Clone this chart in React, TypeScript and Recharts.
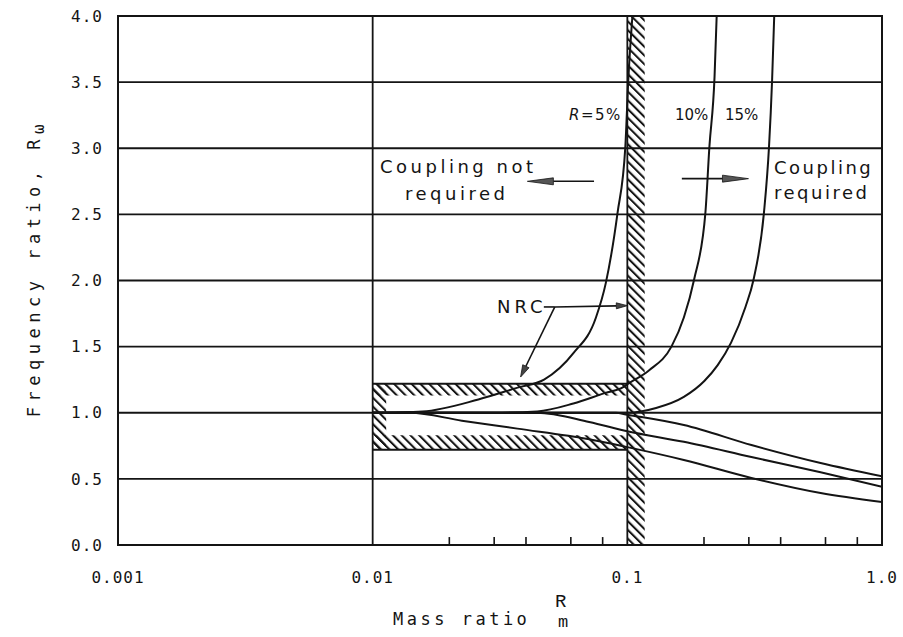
import React from "react"
import {
  LineChart,
  Line,
  XAxis,
  YAxis,
  CartesianGrid,
  ReferenceArea,
  ReferenceLine,
} from "recharts"

// axis ticks
const xTicks = [0.001, 0.01, 0.1, 1]
const yTicks = [0, 0.5, 1, 1.5, 2, 2.5, 3, 3.5, 4]
const minorTicks = [0.02, 0.03, 0.04, 0.06, 0.08, 0.2, 0.3, 0.4, 0.6, 0.8]

// upper branches (frequency ratio rises toward the asymptote)
const upper5 = [
  { m: 0.01, v: 1.0 }, { m: 0.0157, v: 1.01 }, { m: 0.026, v: 1.1 },
  { m: 0.0371, v: 1.19 }, { m: 0.0471, v: 1.25 }, { m: 0.0614, v: 1.45 },
  { m: 0.0753, v: 1.72 }, { m: 0.0823, v: 1.98 }, { m: 0.0915, v: 2.51 },
  { m: 0.0982, v: 3.01 }, { m: 0.1009, v: 3.52 }, { m: 0.1047, v: 4.0 },
]
const upper10 = [
  { m: 0.01, v: 1.0 }, { m: 0.03, v: 1.0 }, { m: 0.0443, v: 1.01 },
  { m: 0.0614, v: 1.07 }, { m: 0.082, v: 1.15 }, { m: 0.0956, v: 1.19 },
  { m: 0.1009, v: 1.22 }, { m: 0.1215, v: 1.32 }, { m: 0.149, v: 1.5 },
  { m: 0.1667, v: 1.72 }, { m: 0.183, v: 2.01 }, { m: 0.2025, v: 2.51 },
  { m: 0.21, v: 3.01 }, { m: 0.22, v: 3.54 }, { m: 0.2243, v: 4.0 },
]
const upper15 = [
  { m: 0.01, v: 1.0 }, { m: 0.1, v: 1.0 }, { m: 0.1297, v: 1.036 },
  { m: 0.1667, v: 1.12 }, { m: 0.2006, v: 1.24 }, { m: 0.2264, v: 1.36 },
  { m: 0.2555, v: 1.53 }, { m: 0.291, v: 1.8 }, { m: 0.3133, v: 2.01 },
  { m: 0.3438, v: 2.51 }, { m: 0.36, v: 3.01 }, { m: 0.3703, v: 3.52 },
  { m: 0.3774, v: 4.0 },
]

// lower branches
const lower5 = [
  { m: 0.01, v: 1.0 }, { m: 0.014, v: 1.0 }, { m: 0.0224, v: 0.94 },
  { m: 0.037, v: 0.88 }, { m: 0.0708, v: 0.8 }, { m: 0.1, v: 0.74 },
  { m: 0.1667, v: 0.643 }, { m: 0.307, v: 0.507 }, { m: 0.574, v: 0.393 },
  { m: 1.0, v: 0.325 },
]
const lower10 = [
  { m: 0.01, v: 1.0 }, { m: 0.0443, v: 1.0 }, { m: 0.0708, v: 0.93 },
  { m: 0.1, v: 0.86 }, { m: 0.1667, v: 0.78 }, { m: 0.307, v: 0.665 },
  { m: 0.574, v: 0.55 }, { m: 1.0, v: 0.44 },
]
const lower15 = [
  { m: 0.01, v: 1.0 }, { m: 0.09, v: 1.0 }, { m: 0.1, v: 0.985 },
  { m: 0.1667, v: 0.907 }, { m: 0.307, v: 0.756 }, { m: 0.574, v: 0.62 },
  { m: 1.0, v: 0.52 },
]

const curves = [upper5, upper10, upper15, lower5, lower10, lower15]

const INK = "#141414"
const MONO = "'DejaVu Sans Mono', monospace"
const SANS = "'DejaVu Sans', sans-serif"

// line with a filled arrowhead at its second point
const arrow = (head: number, width: number, fill: string) => (p: any) => {
  const { x1, y1, x2, y2 } = p
  const a = Math.atan2(y2 - y1, x2 - x1)
  const bx = x2 - head * Math.cos(a)
  const by = y2 - head * Math.sin(a)
  const nx = (-Math.sin(a) * width) / 2
  const ny = (Math.cos(a) * width) / 2
  return (
    <g>
      <line x1={x1} y1={y1} x2={bx} y2={by} stroke={INK} strokeWidth={1.6} />
      <polygon
        points={`${x2},${y2} ${bx + nx},${by + ny} ${bx - nx},${by - ny}`}
        fill={fill}
        stroke={INK}
        strokeWidth={0.8}
      />
    </g>
  )
}

const fmtX = (v: number) => (v === 1 ? "1.0" : String(v))

const hatchArea = { fill: "url(#hatch)", fillOpacity: 1, stroke: "none", strokeWidth: 0 }

export default function App() {
  return (
    <div style={{ position: "absolute", left: 0, top: 0, width: 903, height: 637, background: "#fff" }}>
      <LineChart
        width={903}
        height={637}
        margin={{ top: 16, right: 21, bottom: 52, left: 58 }}
      >
        <defs>
          <pattern id="hatch" patternUnits="userSpaceOnUse" width="6.2" height="6.2" patternTransform="rotate(-45)">
            <line x1="1" y1="0" x2="1" y2="6.2" stroke={INK} strokeWidth="2.1" />
          </pattern>
        </defs>
        <CartesianGrid stroke={INK} strokeWidth={1.8} />
        <XAxis
          dataKey="m"
          type="number"
          scale="log"
          domain={[0.001, 1]}
          ticks={xTicks}
          allowDataOverflow
          height={40}
          axisLine={{ stroke: INK, strokeWidth: 2 }}
          tickLine={false}
          tickSize={8}
          tickMargin={19}
          tickFormatter={fmtX}
          tick={{ fill: INK, fontFamily: MONO, fontSize: 16, letterSpacing: 1 }}
        />
        <YAxis
          dataKey="v"
          type="number"
          domain={[0, 4]}
          ticks={yTicks}
          width={60}
          axisLine={{ stroke: INK, strokeWidth: 2 }}
          tickLine={false}
          tickSize={8}
          tickMargin={7}
          tickFormatter={(v: number) => v.toFixed(1)}
          tick={{ fill: INK, fontFamily: MONO, fontSize: 16, letterSpacing: 1 }}
        />

        {/* NRC limits: hatched bands */}
        <ReferenceArea x1={0.1} x2={0.117} y1={0} y2={4} {...hatchArea} />
        <ReferenceArea x1={0.01} x2={0.1} y1={1.13} y2={1.22} {...hatchArea} />
        <ReferenceArea x1={0.01} x2={0.1} y1={0.72} y2={0.83} {...hatchArea} />
        <ReferenceArea x1={0.01} x2={0.0113} y1={0.72} y2={1.22} {...hatchArea} />
        <ReferenceLine segment={[{ x: 0.01, y: 1.22 }, { x: 0.1, y: 1.22 }]} stroke={INK} strokeWidth={2} />
        <ReferenceLine segment={[{ x: 0.01, y: 0.72 }, { x: 0.1, y: 0.72 }]} stroke={INK} strokeWidth={2} />

        {/* plot frame */}
        <ReferenceArea x1={0.001} x2={1} y1={0} y2={4} fill="none" stroke={INK} strokeWidth={2} />

        {/* minor ticks along the bottom */}
        {minorTicks.map((t) => (
          <ReferenceLine key={t} segment={[{ x: t, y: 0 }, { x: t, y: 0.06 }]} stroke={INK} strokeWidth={1.6} />
        ))}

        {/* annotation arrows */}
        <ReferenceLine segment={[{ x: 0.074, y: 2.75 }, { x: 0.0405, y: 2.75 }]} shape={arrow(26, 7, "#555")} />
        <ReferenceLine segment={[{ x: 0.1637, y: 2.77 }, { x: 0.299, y: 2.77 }]} shape={arrow(26, 7, "#555")} />
        <ReferenceLine segment={[{ x: 0.0519, y: 1.8 }, { x: 0.1, y: 1.81 }]} shape={arrow(11, 6, "#444")} />
        <ReferenceLine segment={[{ x: 0.0519, y: 1.8 }, { x: 0.0381, y: 1.27 }]} shape={arrow(12, 7, "#444")} />
        <ReferenceLine segment={[{ x: 0.047, y: 1.8 }, { x: 0.0519, y: 1.8 }]} stroke={INK} strokeWidth={1.6} />

        {curves.map((d, i) => (
          <Line
            key={i}
            data={d}
            dataKey="v"
            type="monotone"
            stroke={INK}
            strokeWidth={2}
            dot={false}
            activeDot={false}
            isAnimationActive={false}
          />
        ))}
      </LineChart>

      <svg
        width={903}
        height={637}
        style={{ position: "absolute", left: 0, top: 0, pointerEvents: "none" }}
      >
        <g fill={INK} fontFamily={SANS} fontSize={18} letterSpacing={3.5}>
          <text x={380} y={173}>Coupling not</text>
          <text x={405} y={200}>required</text>
          <text x={774} y={174} letterSpacing={2.5}>Coupling</text>
          <text x={774} y={199} letterSpacing={2.5}>required</text>
          <text x={497} y={313} letterSpacing={4}>NRC</text>
        </g>
        <g fill={INK} fontFamily={SANS} fontSize={15}>
          <text x={569} y={120} letterSpacing={1.5}>
            <tspan fontStyle="italic">R</tspan>=5%
          </text>
          <text x={675} y={120}>10%</text>
          <text x={725} y={120}>15%</text>
        </g>
        <g fill={INK} fontFamily={MONO} fontSize={17} letterSpacing={3.5}>
          <text x={393} y={625}>Mass ratio</text>
        </g>
        <text
          x={40}
          y={268}
          textAnchor="middle"
          transform="rotate(-90 40 268)"
          fill={INK}
          fontFamily={MONO}
          fontSize={17}
          letterSpacing={5.5}
        >
          Frequency ratio, R<tspan dy={4} fontSize={16}>ω</tspan>
        </text>
        <g fill={INK} fontFamily="'Liberation Mono', monospace" fontSize={19}>
          <text x={555} y={607}>R</text>
          <text x={558} y={627} fontSize={17}>m</text>
        </g>
      </svg>
    </div>
  )
}
